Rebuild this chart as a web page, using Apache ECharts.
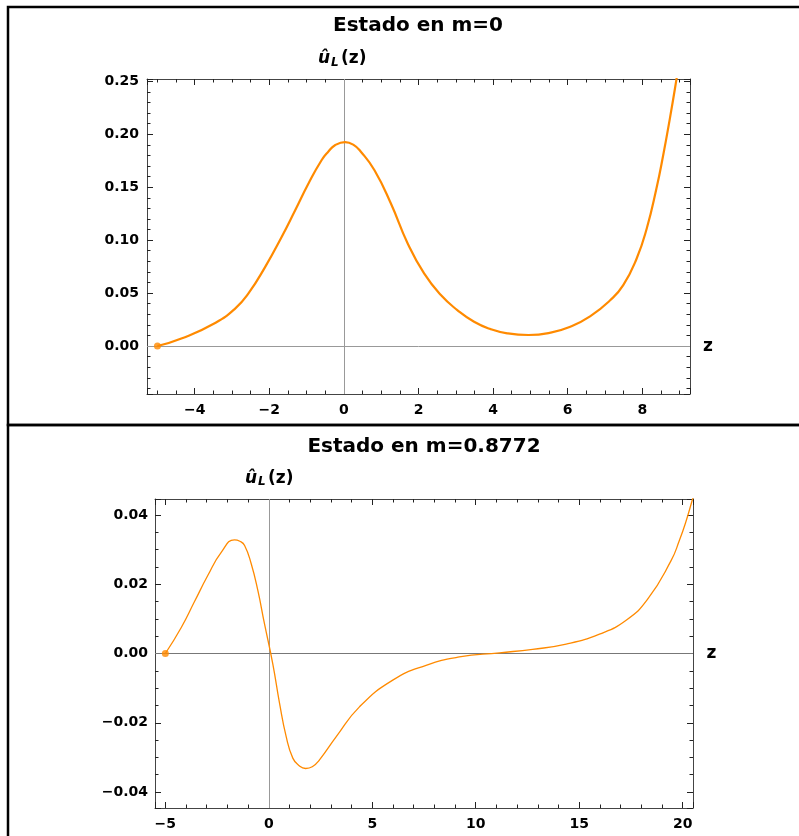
<!DOCTYPE html>
<html>
<head>
<meta charset="utf-8">
<script src="https://cdn.jsdelivr.net/npm/echarts@6/dist/echarts.min.js"></script>
<style>
  html, body { margin: 0; padding: 0; background: #fff; }
  #chart { width: 799px; height: 836px; }
</style>
</head>
<body>
<div id="chart"></div>
<script>
// estado en m=0
const zTop = [-5, -4.34, -3.44, -2.91, -2.56, -2.11, -1.67, -1.31, -0.95, -0.6, -0.42, -0.24, 0.03, 0.25, 0.46, 0.82, 1.26, 1.71, 2.15, 2.6, 3.04, 3.49, 3.93, 4.38, 4.95, 5.54, 6.07, 6.6, 7.14, 7.49, 7.85, 8.12, 8.38, 8.56, 8.74, 8.92, 9.1];
const uTop = [0.000, 0.0073, 0.022, 0.0356, 0.0497, 0.0748, 0.103, 0.128, 0.1535, 0.1755, 0.1835, 0.1896, 0.1926, 0.1902, 0.1833, 0.166, 0.1346, 0.0969, 0.0686, 0.0481, 0.034, 0.0229, 0.016, 0.012, 0.0104, 0.0126, 0.0182, 0.028, 0.0432, 0.0575, 0.0827, 0.111, 0.1488, 0.180, 0.2148, 0.2525, 0.292];

// estado en m=0.8772
const zBot = [-5, -4.23, -3.59, -2.95, -2.3, -1.66, -1.4, -1.17, -0.85, -0.53, -0.21, 0.19, 0.52, 0.84, 1.16, 1.45, 1.78, 2.1, 2.45, 3.26, 4.38, 5.99, 7.6, 9.21, 11.15, 12.75, 14.37, 15.98, 17.27, 18.3, 19.44, 19.84, 20.16, 20.48, 20.7];
const uBot = [0, 0.0075, 0.015, 0.0225, 0.0292, 0.0328, 0.0324, 0.0312, 0.0259, 0.0182, 0.0086, -0.0029, -0.0144, -0.024, -0.0302, -0.0323, -0.0332, -0.0327, -0.0307, -0.024, -0.0154, -0.0077, -0.0034, -0.001, 0.0002, 0.0012, 0.0027, 0.0056, 0.0096, 0.0156, 0.0268, 0.0326, 0.0381, 0.0446, 0.049];

const titles = ['Estado en m=0', 'Estado en m=0.8772'];

const ORANGE = '#ff8a00';
const FRAME = '#444';
const FONT = 'DejaVu Sans';

const chart = echarts.init(document.getElementById('chart'), null, { renderer: 'canvas' });

const minus = (s) => s.replace('-', '\u2212');

// only label multiples of the major step
const fmt = (step, digits) => (v) => {
  const k = v / step;
  if (Math.abs(k - Math.round(k)) > 1e-6) return '';
  let val = Math.round(k) * step;
  if (Math.abs(val) < 1e-12) val = 0;
  return minus(val.toFixed(digits));
};

const frameAxis = (pos, gridIndex, min, max, split, minorSplit, labelFmt, margin) => ({
  type: 'value',
  gridIndex: gridIndex,
  position: pos,
  min: min,
  max: max,
  splitNumber: split,
  axisLine: { show: true, onZero: false, lineStyle: { color: FRAME, width: 1 } },
  axisTick: { show: true, inside: true, length: 6, lineStyle: { color: '#222', width: 1 } },
  minorTick: { show: true, splitNumber: minorSplit, length: 3.5, lineStyle: { color: '#222', width: 1 } },
  splitLine: { show: false },
  axisLabel: labelFmt ? {
    show: true, formatter: labelFmt, margin: margin,
    color: '#000', fontFamily: FONT, fontWeight: 'bold', fontSize: 14
  } : { show: false },
});

const zeroLines = (hColor, vColor) => ({
  silent: true,
  animation: false,
  z: 1,
  symbol: ['none', 'none'],
  label: { show: false },
  emphasis: { disabled: true },
  data: [
    { xAxis: 0, lineStyle: { color: vColor, width: 1, type: 'solid' } },
    { yAxis: 0, lineStyle: { color: hColor, width: 1, type: 'solid' } },
  ],
});

const curve = (xi, yi, z, u, width, hColor, vColor) => ({
  type: 'line',
  xAxisIndex: xi, yAxisIndex: yi,
  data: z.map((v, i) => [v, u[i]]),
  smooth: 0.5,
  showSymbol: false,
  z: 3,
  lineStyle: { color: ORANGE, width: width },
  markLine: zeroLines(hColor, vColor),
});

const startDot = (xi, yi, z, u) => ({
  type: 'scatter',
  xAxisIndex: xi, yAxisIndex: yi,
  data: [[z[0], u[0]]],
  symbolSize: 7,
  z: 4,
  itemStyle: { color: ORANGE },
});

const option = {
  animation: false,
  backgroundColor: '#fff',
  grid: [
    { left: 147, top: 79, width: 543, height: 315 },
    { left: 155, top: 499, width: 538, height: 309 },
  ],
  xAxis: [
    frameAxis('bottom', 0, -5.28, 9.28, 7, 4, fmt(2, 0), 9),
    frameAxis('top', 0, -5.28, 9.28, 7, 4, null),
    frameAxis('bottom', 1, -5.5, 20.5, 5, 5, fmt(5, 0), 9),
    frameAxis('top', 1, -5.5, 20.5, 5, 5, null),
  ],
  yAxis: [
    frameAxis('left', 0, -0.0453, 0.2522, 5, 5, fmt(0.05, 2), 8),
    frameAxis('right', 0, -0.0453, 0.2522, 5, 5, null),
    frameAxis('left', 1, -0.0446, 0.0446, 5, 4, fmt(0.02, 2), 7),
    frameAxis('right', 1, -0.0446, 0.0446, 5, 4, null),
  ],
  series: [
    curve(0, 0, zTop, uTop, 2.2, '#999', '#999'),
    startDot(0, 0, zTop, uTop),
    curve(2, 2, zBot, uBot, 1.3, '#777', '#999'),
    startDot(2, 2, zBot, uBot),
  ],
  graphic: [
    // panel borders
    { type: 'rect', shape: { x: 8, y: 7, width: 800, height: 418 }, style: { fill: 'none', stroke: '#000', lineWidth: 2.5 }, silent: true },
    { type: 'rect', shape: { x: 8, y: 425, width: 800, height: 420 }, style: { fill: 'none', stroke: '#000', lineWidth: 2.5 }, silent: true },
    // titles
    { type: 'text', x: 418, y: 26, style: { text: titles[0], textAlign: 'center', textVerticalAlign: 'middle', font: 'bold 20px "DejaVu Sans"', fill: '#000' } },
    { type: 'text', x: 424, y: 447, style: { text: titles[1], textAlign: 'center', textVerticalAlign: 'middle', font: 'bold 20px "DejaVu Sans"', fill: '#000' } },
    // axis labels, top panel
    { type: 'text', x: 318, y: 58.5, style: { text: '\u00fb', textVerticalAlign: 'middle', font: 'italic bold 17px "DejaVu Sans"', fill: '#000' } },
    { type: 'text', x: 331, y: 62.5, style: { text: 'L', textVerticalAlign: 'middle', font: 'italic bold 12px "DejaVu Sans"', fill: '#000' } },
    { type: 'text', x: 341, y: 58.5, style: { text: '(z)', textVerticalAlign: 'middle', font: 'bold 17px "DejaVu Sans"', fill: '#000' } },
    { type: 'text', x: 708, y: 346.5, style: { text: 'z', textAlign: 'center', textVerticalAlign: 'middle', font: 'bold 17px "DejaVu Sans"', fill: '#000' } },
    // axis labels, bottom panel
    { type: 'text', x: 245, y: 478.3, style: { text: '\u00fb', textVerticalAlign: 'middle', font: 'italic bold 17px "DejaVu Sans"', fill: '#000' } },
    { type: 'text', x: 258, y: 482.3, style: { text: 'L', textVerticalAlign: 'middle', font: 'italic bold 12px "DejaVu Sans"', fill: '#000' } },
    { type: 'text', x: 268, y: 478.3, style: { text: '(z)', textVerticalAlign: 'middle', font: 'bold 17px "DejaVu Sans"', fill: '#000' } },
    { type: 'text', x: 711.5, y: 653.2, style: { text: 'z', textAlign: 'center', textVerticalAlign: 'middle', font: 'bold 17px "DejaVu Sans"', fill: '#000' } },
  ],
};

chart.setOption(option);
window.addEventListener('resize', chart.resize);
</script>
</body>
</html>
